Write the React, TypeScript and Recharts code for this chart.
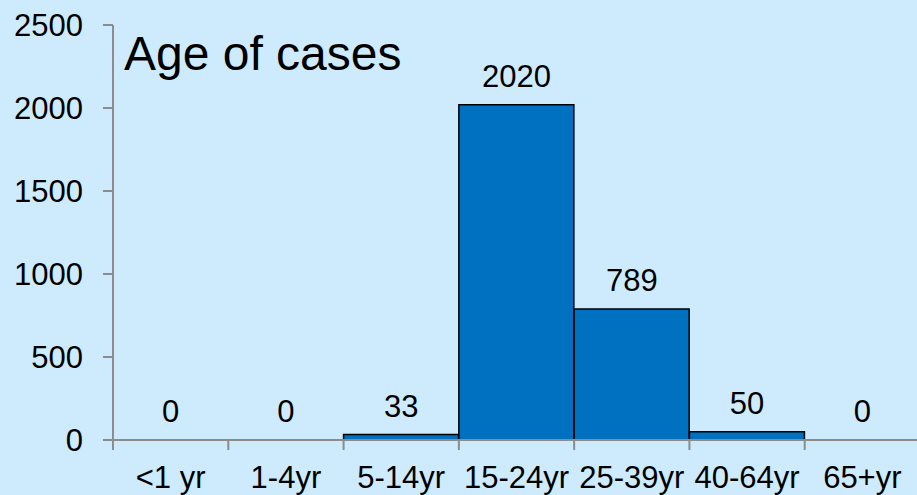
import { ComposedChart, Bar, Line, XAxis, YAxis, LabelList } from "recharts";

const ageGroups = ["<1 yr", "1-4yr", "5-14yr", "15-24yr", "25-39yr", "40-64yr", "65+yr"];
const caseCounts = [0, 0, 33, 2020, 789, 50, 0];
const yTicks = [0, 500, 1000, 1500, 2000, 2500];

const data = ageGroups.map((age, i) => ({ age, cases: caseCounts[i] }));

const FONT = '"Liberation Sans", Arial, sans-serif';
const AXIS = "#8c8c8c";
const CHART_W = 920;
const CHART_H = 495;
const Y_W = 113;
const BAND = (CHART_W - Y_W) / ageGroups.length;
const X_TICK = 10;
const X_GAP = 17;
const TEXT_SIZE = 31;

function CategoryTick(props: any) {
  const { x, y, payload } = props;
  const lineTop = y - X_TICK - X_GAP;
  const left = x - BAND / 2;
  return (
    <g>
      <line x1={left} x2={left} y1={lineTop} y2={lineTop + X_TICK} stroke={AXIS} strokeWidth={2} />
      <text
        x={x}
        y={y}
        dy={21}
        textAnchor="middle"
        fill="#000"
        fontSize={TEXT_SIZE}
        fontFamily={FONT}
      >
        {payload.value}
      </text>
    </g>
  );
}

export default function App() {
  return (
    <div
      style={{
        position: "absolute",
        left: 0,
        top: 0,
        width: 917,
        height: 495,
        overflow: "hidden",
        background: "#cdebfd",
      }}
    >
      <ComposedChart
        width={CHART_W}
        height={CHART_H}
        data={data}
        margin={{ top: 25, right: 0, bottom: 0, left: 0 }}
        barCategoryGap={0}
      >
        <XAxis
          dataKey="age"
          height={55}
          stroke={AXIS}
          strokeWidth={2}
          tickLine={false}
          tickSize={X_TICK}
          tickMargin={X_GAP}
          interval={0}
          tick={<CategoryTick />}
        />
        <YAxis
          width={Y_W}
          domain={[0, 2500]}
          ticks={yTicks}
          interval={0}
          stroke={AXIS}
          strokeWidth={2}
          tickSize={10}
          tickMargin={20}
          tick={{ fill: "#000", fontSize: TEXT_SIZE, fontFamily: FONT }}
        />
        <Bar
          dataKey="cases"
          fill="#0070c0"
          stroke="#000"
          strokeWidth={1.5}
          isAnimationActive={false}
        />
        {/* invisible line only carries the value labels, so zero counts get one too */}
        <Line
          dataKey="cases"
          stroke="none"
          dot={false}
          activeDot={false}
          legendType="none"
          isAnimationActive={false}
        >
          <LabelList
            dataKey="cases"
            position="top"
            offset={18}
            fill="#000"
            fontSize={TEXT_SIZE}
            fontFamily={FONT}
          />
        </Line>
        <text x={124} y={70} fontSize={48} fontFamily={FONT} fill="#000">
          Age of cases
        </text>
      </ComposedChart>
    </div>
  );
}
